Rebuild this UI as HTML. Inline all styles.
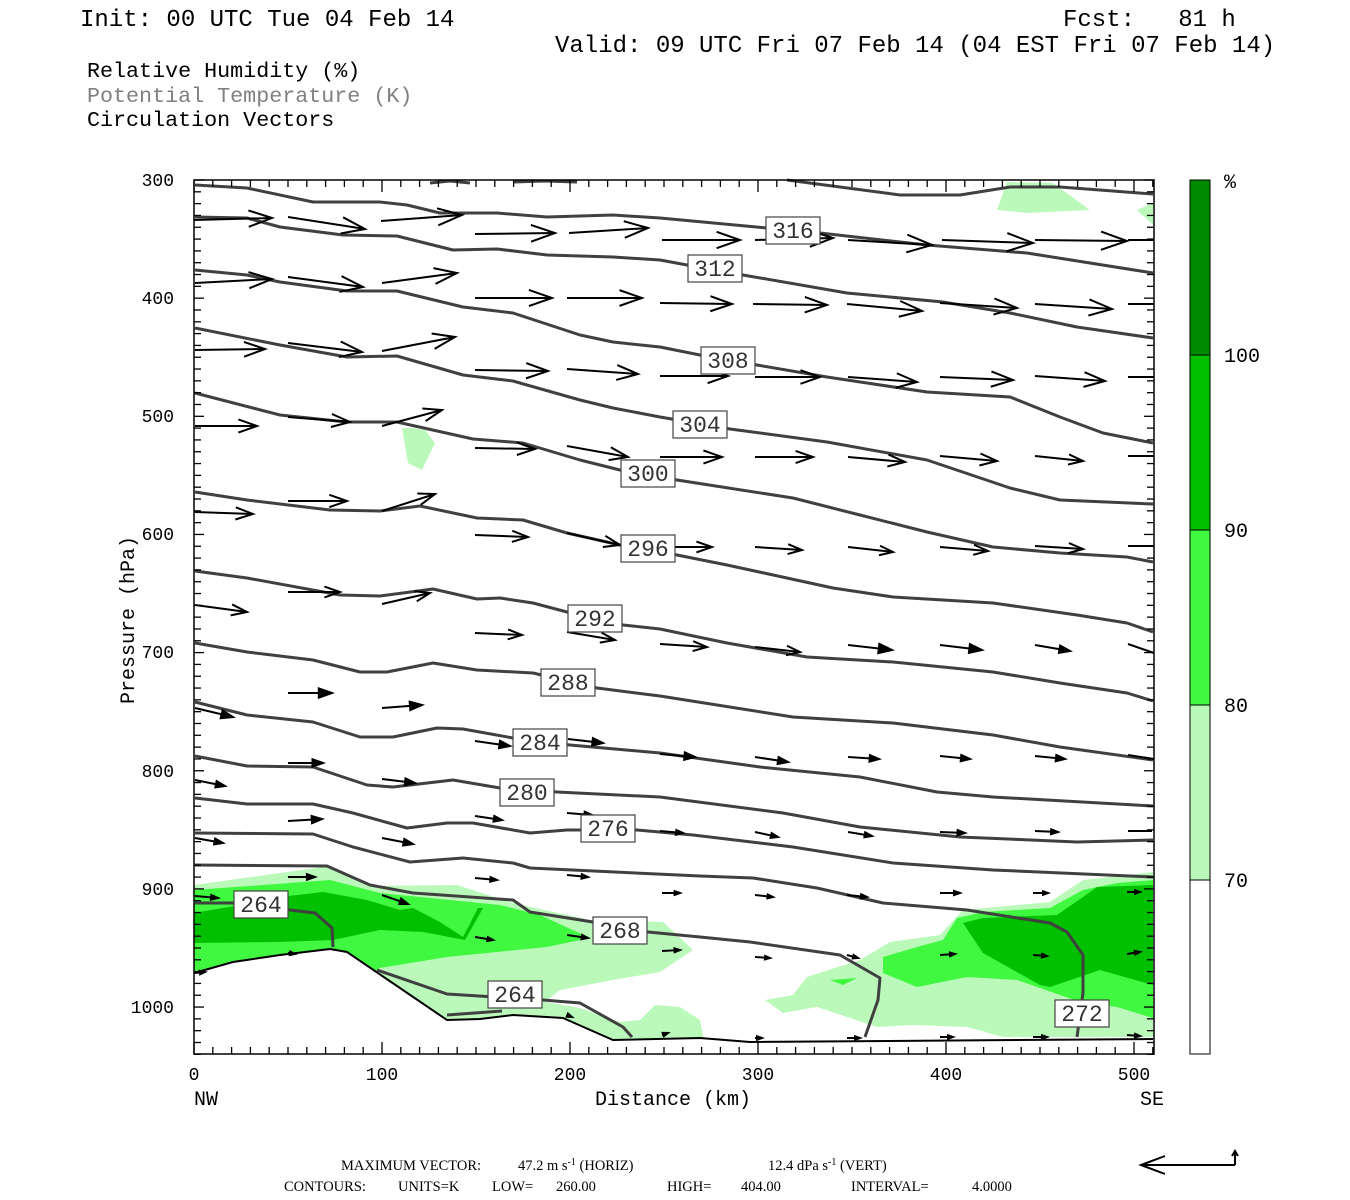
<!DOCTYPE html>
<html><head><meta charset="utf-8"><style>
body{margin:0;background:#fff;width:1350px;height:1200px;overflow:hidden}
svg{position:absolute;left:0;top:0}
</style></head><body>
<svg id="s" width="1350" height="1200" viewBox="0 0 1350 1200" xmlns="http://www.w3.org/2000/svg" font-family="Liberation Mono, monospace">
<g font-size="24" fill="#000">
<text x="80" y="26">Init: 00 UTC Tue 04 Feb 14</text>
<text x="1063" y="26" xml:space="preserve">Fcst:   81 h</text>
<text x="555" y="52">Valid: 09 UTC Fri 07 Feb 14 (04 EST Fri 07 Feb 14)</text>
</g>
<g font-size="21.7">
<text x="87" y="77">Relative Humidity (%)</text>
<text x="87" y="102" fill="#808080">Potential Temperature (K)</text>
<text x="87" y="126">Circulation Vectors</text>
</g>
<!-- shading -->
<g stroke="none">
<polygon fill="#bbf9bb" points="194,885 280,873 330,866 372,886 457,885 513,903 590,920 663,922 693,950 660,972 613,980 560,990 545,1002 580,1008 620,1022 640,1020 655,1005 680,1007 700,1020 705,1045 194,1054"/>
<polygon fill="#40f840" points="194,890 290,883 330,880 380,893 430,898 500,905 540,915 590,938 547,947 447,957 380,968 340,990 194,990"/>
<polygon fill="#00c000" points="194,913 240,905 280,897 323,892 367,900 400,910 413,908 440,922 463,937 478,908 483,908 465,940 423,932 380,930 333,940 280,942 194,943"/>
<polygon fill="#bbf9bb" points="765,1000 793,995 807,977 860,960 890,942 940,935 963,910 1050,902 1083,880 1153,872 1153,1037 1003,1037 967,1027 913,1025 877,1027 817,1007 783,1013"/>
<polygon fill="#40f840" points="883,957 917,947 943,940 957,918 983,912 1050,908 1083,890 1117,883 1153,880 1153,1018 1117,1007 1083,1003 1017,980 967,977 917,987 883,973"/>
<polygon fill="#40f840" points="830,980 857,978 843,985"/>
<polygon fill="#00c000" points="963,923 983,918 1057,915 1083,897 1097,887 1153,885 1153,985 1100,970 1050,987 1040,985 983,953"/>
<polygon fill="#bbf9bb" points="1007,182 1053,183 1090,210 1027,213 997,210"/>
<polygon fill="#bbf9bb" points="1137,210 1153,203 1153,225"/>
<polygon fill="#bbf9bb" points="402,428 413,428 425,430 435,443 422,470 408,463"/>
<polygon fill="#fff" points="194,973 233,962 280,955 330,949 347,952 447,1020 480,1019 513,1015 563,1018 613,1040 700,1038 750,1042 1153,1039 1153,1054 194,1054"/>
</g>
<!-- isentropes -->
<g fill="none" stroke="#404040" stroke-width="3" stroke-linejoin="round">
<polyline points="430,183 450,181 470,183"/>
<polyline points="513,182 545,181 577,182"/>
<polyline points="787,180 900,195 960,195 1010,187 1060,187 1153,194"/>
<polyline points="195,185 247,188 313,202 380,202 407,205 440,213 497,213 547,217 613,215 660,218 767,228 820,233 927,245 1027,253 1153,273"/>
<polyline points="195,217 247,218 280,227 343,235 397,236 453,250 497,249 547,255 613,257 660,260 687,265 743,275 847,293 943,302 1010,313 1077,327 1153,338"/>
<polyline points="195,270 247,275 280,282 347,291 397,291 463,307 513,313 580,335 613,342 660,347 700,355 757,365 827,377 927,392 1010,397 1060,417 1103,433 1153,443"/>
<polyline points="195,328 280,345 347,357 397,356 463,375 513,381 580,400 613,408 660,417 730,429 827,442 927,460 1010,488 1060,500 1153,504"/>
<polyline points="195,393 280,415 347,422 397,422 473,439 523,443 580,460 620,470 677,480 793,498 860,515 927,532 993,547 1060,553 1127,557 1153,562"/>
<polyline points="195,492 247,500 330,510 380,511 420,506 477,518 523,520 567,533 620,545 677,555 727,565 833,588 893,597 993,603 1077,615 1127,623 1153,632"/>
<polyline points="195,571 247,578 340,595 380,596 433,589 477,599 500,598 533,603 567,612 623,625 660,629 727,643 807,657 893,662 993,672 1060,683 1127,693 1153,701"/>
<polyline points="195,643 247,652 313,660 360,672 387,672 433,663 477,670 533,673 597,688 660,696 793,717 893,723 993,735 1060,747 1153,760"/>
<polyline points="195,702 247,715 313,722 360,737 393,737 437,728 463,729 513,738 570,745 660,753 760,767 860,777 937,792 993,797 1153,806"/>
<polyline points="195,756 247,766 313,767 367,785 393,787 453,780 500,788 557,792 660,797 783,813 860,827 960,837 1077,842 1153,840"/>
<polyline points="195,798 247,804 313,804 353,813 407,828 447,823 473,823 530,833 567,830 637,830 693,835 793,847 893,863 993,870 1153,877"/>
<polyline points="195,833 313,834 353,847 410,862 463,858 513,863 530,868 700,876 753,878 817,888 883,903 967,910 1050,923 1067,932 1083,955 1083,993 1077,1037"/>
<polyline points="195,865 327,866 370,885 413,893 513,900 530,912 593,922 648,932 700,937 750,942 840,955 880,978 878,1000 865,1037"/>
<polyline points="195,903 233,903 290,910 315,913 332,928 333,947"/>
<polyline points="377,970 447,994 543,1000 580,1003 623,1027 632,1037"/>
<polyline points="447,1015 502,1011"/>
</g>
<polyline fill="none" stroke="#000" stroke-width="2" points="194,973 233,962 280,955 330,949 347,952 447,1020 480,1019 513,1015 563,1018 613,1040 700,1038 750,1042 1153,1039"/>
<g id="arrows" stroke="#000" stroke-width="2" fill="none"></g>
<g id="ticks" stroke="#000" stroke-width="1.3"></g>
<!-- labels -->
<g id="labs" font-size="23" fill="#333"></g>
<rect x="194" y="180" width="960" height="874" fill="none" stroke="#000" stroke-width="1.5"/>
<!-- axis labels -->
<g font-size="18" text-anchor="end">
<text x="174" y="186">300</text><text x="174" y="304">400</text><text x="174" y="422">500</text>
<text x="174" y="540">600</text><text x="174" y="658">700</text><text x="174" y="777">800</text>
<text x="174" y="895">900</text><text x="174" y="1013">1000</text>
</g>
<g font-size="18" text-anchor="middle">
<text x="194" y="1080">0</text><text x="382" y="1080">100</text><text x="570" y="1080">200</text>
<text x="758" y="1080">300</text><text x="946" y="1080">400</text><text x="1134" y="1080">500</text>
</g>
<g font-size="20">
<text x="194" y="1105">NW</text><text x="1140" y="1105">SE</text>
<text x="673" y="1105" text-anchor="middle">Distance (km)</text>
<text transform="translate(134,620) rotate(-90)" text-anchor="middle">Pressure (hPa)</text>
</g>
<!-- colorbar -->
<rect x="1190" y="180" width="20" height="175" fill="#008a00"/>
<rect x="1190" y="355" width="20" height="175" fill="#00c000"/>
<rect x="1190" y="530" width="20" height="175" fill="#40f840"/>
<rect x="1190" y="705" width="20" height="175" fill="#bbf9bb"/>
<rect x="1190" y="880" width="20" height="174" fill="#fff"/>
<g stroke="#000" stroke-width="1">
<rect x="1190" y="180" width="20" height="874" fill="none"/>
<line x1="1190" y1="355" x2="1210" y2="355"/><line x1="1190" y1="530" x2="1210" y2="530"/>
<line x1="1190" y1="705" x2="1210" y2="705"/><line x1="1190" y1="880" x2="1210" y2="880"/>
</g>
<g font-size="20">
<text x="1224" y="188">%</text><text x="1224" y="362">100</text><text x="1224" y="537">90</text>
<text x="1224" y="712">80</text><text x="1224" y="887">70</text>
</g>
<!-- footer -->
<g font-family="Liberation Serif, serif" font-size="14.5">
<text x="341" y="1170">MAXIMUM VECTOR:</text><text x="518" y="1170">47.2 m s<tspan dy="-5" font-size="10">-1</tspan><tspan dy="5"> (HORIZ)</tspan></text>
<text x="768" y="1170">12.4 dPa s<tspan dy="-5" font-size="10">-1</tspan><tspan dy="5"> (VERT)</tspan></text>
<text x="284" y="1191">CONTOURS:</text><text x="398" y="1191">UNITS=K</text><text x="492" y="1191">LOW=</text><text x="556" y="1191">260.00</text>
<text x="667" y="1191">HIGH=</text><text x="741" y="1191">404.00</text><text x="851" y="1191">INTERVAL=</text><text x="972" y="1191">4.0000</text>
</g>
<g stroke="#000" stroke-width="2" fill="none">
<polyline points="1235,1165 1141,1165"/><polyline points="1165,1156 1141,1165 1165,1174"/>
<polyline points="1235,1165 1235,1151"/><polyline points="1232,1156 1235,1151 1238,1156"/>
</g>
</svg>
<script>
var NS="http://www.w3.org/2000/svg";
function el(p,t,a){var e=document.createElementNS(NS,t);for(var k in a)e.setAttribute(k,a[k]);p.appendChild(e);return e;}
var A=document.getElementById('arrows');
var arr=[
[194,220,272,218],[288,217,365,229],[381,221,462,215],
[475,234,555,233],[569,233,648,228],[662,240,740,240],[755,240,833,238],[848,240,932,245],[942,240,1033,243],[1035,240,1127,241],
[195,283,272,279],[288,277,363,287],[382,283,457,273],
[475,298,552,298],[567,298,642,298],[660,303,732,304],[753,304,827,305],[847,304,922,311],[940,303,1017,308],[1035,304,1112,309],
[195,350,265,349],[288,343,362,352],[382,351,455,337],
[475,370,548,371],[567,369,638,374],[660,376,728,376],[755,377,820,377],[848,377,917,382],[940,377,1013,380],[1035,376,1105,381],
[195,426,257,426],[288,417,350,422],[382,426,442,410],
[475,448,535,449],[567,446,628,457],[660,457,722,457],[755,457,813,457],[848,457,905,462],[940,456,997,461],[1035,456,1083,461],
[195,512,253,514],[288,501,347,501],[382,511,435,494],
[475,535,528,537],[567,533,620,545],[660,547,712,547],[755,547,802,550],[848,547,893,552],[940,547,988,551],[1035,546,1083,549],
[195,605,247,612],[288,592,340,592],[382,604,430,593],
[475,633,522,635],[567,632,615,640],[660,644,707,647],[755,647,800,652],[848,645,892,650],[940,645,982,650],[1035,645,1070,651],
[195,708,233,717],[288,693,332,693],[382,708,422,705],
[475,741,510,746],[568,739,603,743],[660,754,695,757],[755,757,788,762],[848,757,879,759],[940,756,970,759],[1035,756,1065,759],
[195,780,225,786],[288,763,323,763],[382,779,415,783],
[475,816,502,820],[567,813,592,815],[660,831,683,833],[755,832,778,837],[848,832,872,836],[940,832,965,833],[1035,831,1058,832],
[195,838,223,843],[288,821,322,819],[382,838,413,844],
[475,878,497,880],[567,875,588,877],[662,893,680,893],[755,895,773,897],[847,895,867,897],[940,893,960,893],[1033,893,1048,893],[1127,892,1140,892],
[195,896,218,898],[288,877,315,877],[382,895,408,904],
[475,937,493,940],[567,935,588,938],[662,951,680,950],[755,957,770,958],[847,955,858,958],[940,955,955,954],[1033,955,1047,956],[1127,954,1140,952],
[288,953,295,954],[195,973,205,972],
[662,1035,668,1033],[567,1015,572,1017],[755,1038,762,1038],[847,1038,860,1038],[940,1037,953,1037],[1033,1037,1047,1037],[1127,1035,1140,1036]
];
arr.forEach(function(a){
 var dx=a[2]-a[0],dy=a[3]-a[1],L=Math.sqrt(dx*dx+dy*dy),ux=dx/L,uy=dy/L;
 var h=Math.max(5,Math.min(26,L*0.3)),w=h*0.35;
 var bx=a[2]-ux*h,by=a[3]-uy*h;
 var p1=(bx-uy*w)+','+(by+ux*w),p2=(bx+uy*w)+','+(by-ux*w);
 el(A,'line',{x1:a[0],y1:a[1],x2:a[2],y2:a[3]});
 if(L<45) el(A,'polygon',{points:p1+' '+a[2]+','+a[3]+' '+p2,fill:'#000'});
 else el(A,'polyline',{points:p1+' '+a[2]+','+a[3]+' '+p2});
});
// extra partial arrows at right edge
[[1128,240,1154,240],[1128,304,1154,304],[1128,377,1154,377],[1128,456,1154,456],[1128,546,1154,546],[1128,644,1154,653],[1128,755,1154,759],[1128,831,1152,831]].forEach(function(a){el(A,'line',{x1:a[0],y1:a[1],x2:a[2],y2:a[3]});});
var T=document.getElementById('ticks');
for(var p=300;p<=1040;p+=10){var y=180+(p-300)*1.1815;var l=(p%100==0)?10:7;
 el(T,'line',{x1:194,y1:y,x2:194+l,y2:y});el(T,'line',{x1:1154,y1:y,x2:1154-l,y2:y});}
for(var d=0;d<=510;d+=10){var x=194+d*1.88;var l=(d%100==0)?12:7;
 el(T,'line',{x1:x,y1:1054,x2:x,y2:1054-l});el(T,'line',{x1:x,y1:180,x2:x,y2:180+l});}
var G=document.getElementById('labs');
[["316",793,230],["312",715,268],["308",728,360],["304",700,424],["300",648,473],["296",648,548],["292",595,618],["288",568,682],["284",540,742],["280",527,792],["276",608,828],["268",620,930],["264",261,904],["264",515,994],["272",1082,1013]].forEach(function(l){
 el(G,'rect',{x:l[1]-27,y:l[2]-13,width:54,height:27,fill:'#fff',stroke:'#444','stroke-width':1.2});
 var t=el(G,'text',{x:l[1],y:l[2]+8,'text-anchor':'middle'});t.textContent=l[0];
});
</script>
</body></html>
